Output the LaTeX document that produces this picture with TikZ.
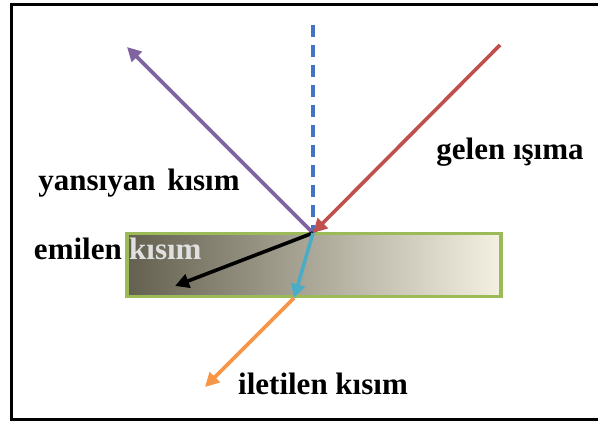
\documentclass[tikz,border=0pt]{standalone}
\usepackage{fontspec}
\setmainfont{Liberation Serif}
\usepackage{xcolor}
\usepackage{tikz}
\usetikzlibrary{arrows.meta, positioning, calc}

\definecolor{rayred}{RGB}{192,80,77}
\definecolor{raypurple}{RGB}{128,100,162}
\definecolor{rayblue}{RGB}{68,114,196}
\definecolor{raycyan}{RGB}{75,172,198}
\definecolor{rayorange}{RGB}{247,150,70}
\definecolor{slabgreen}{RGB}{155,187,89}
\definecolor{slabdark}{RGB}{100,96,80}
\definecolor{slablight}{RGB}{244,241,226}

\begin{document}
\begin{tikzpicture}[x=1pt, y=-1pt,
    ray/.style={line width=3.6pt, -{Triangle[length=14pt, width=14pt]}},
    normal/.style={rayblue, line width=3.4pt, dash pattern=on 12pt off 8pt},
    slab/.style={rectangle, draw=slabgreen, line width=3.4pt, left color=slabdark, right color=slablight, minimum width=374pt, minimum height=63pt},
    label/.style={font=\fontsize{31}{36}\selectfont\bfseries, inner sep=0pt},
    frame/.style={draw=black, line width=3pt}
]
\useasboundingbox (0,0) rectangle (598,423);
% Outer frame
\begin{scope}
\clip (0,0) rectangle (598,423);
\draw[frame] (11,4) rectangle (610,419);
\end{scope}
% Material slab
\node[slab] (slab) at (314,265) {};
% Ray points
\coordinate (hit) at (313,233);
\coordinate (normaltop) at (313,25);
\coordinate (source) at (500,45);
\coordinate (reflect) at (127,47);
\coordinate (absorb) at (175,286);
\coordinate (exit) at (294,298);
\coordinate (transmit) at (205,387);
% Normal line
\draw[normal] (normaltop) -- (hit);
% Incoming and reflected
\draw[ray, rayred] (source) -- (hit);
\draw[ray, raypurple] (hit) -- (reflect);
% Inside the slab
\draw[ray, black] (hit) -- (absorb);
\draw[ray, raycyan] (hit) -- (exit);
% Leaving the slab
\draw[ray, rayorange] (exit) -- (transmit);
% Labels
\node[label] (incoming) at (510,152) {gelen ışıma};
\node[label] (reflected) at (139,183) {yansıyan\hspace{4pt} kısım};
\node[label, anchor=east] (absorbed) at (122,249) {emilen};
\node[label, anchor=west, text=black!12] (absorbedb) at (129,249) {kısım};
\node[label] (transmitted) at (323,384) {iletilen kısım};
\end{tikzpicture}
\end{document}
